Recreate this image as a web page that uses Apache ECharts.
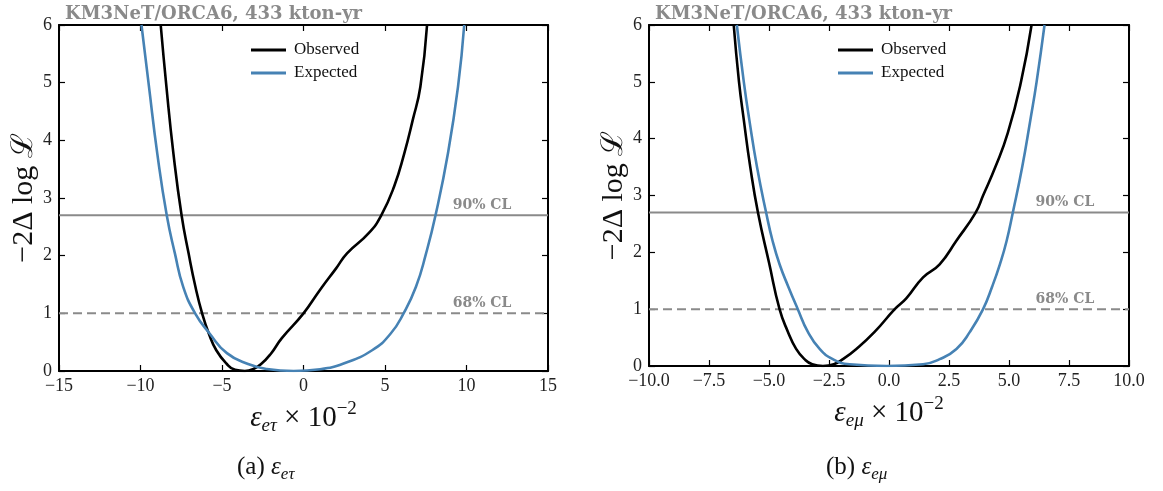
<!DOCTYPE html>
<html>
<head>
<meta charset="utf-8">
<script src="https://cdn.jsdelivr.net/npm/echarts@6/dist/echarts.min.js"></script>
<style>
html,body{margin:0;padding:0;background:#fff;}
#chart{width:1163px;height:491px;}
</style>
</head>
<body>
<div id="chart"></div>
<script>
// ---------- data ----------
const titleText = 'KM3NeT/ORCA6, 433 kton-yr';
const seriesNames = ['Observed', 'Expected'];
const clLevels = [2.7, 1.0];
const clLabels = ['90% CL', '68% CL'];

// Left panel: epsilon_e-tau (x 10^-2)
const tauObsX = [-8.76, -8.41, -7.98, -7.48, -7.05, -6.63, -6.22, -5.81, -5.35, -4.73, -4.2, -3.6, -3.1, -2.6, -2.0, -1.33, 0.0, 1.02, 2.0, 2.67, 4.0, 4.77, 5.56, 6.18, 6.7, 7.17, 7.58];
const tauObsY = [6.0, 4.93, 3.77, 2.7, 2.04, 1.46, 1.0, 0.65, 0.36, 0.13, 0.02, 0.0, 0.03, 0.12, 0.3, 0.57, 1.0, 1.41, 1.78, 2.04, 2.39, 2.7, 3.2, 3.77, 4.35, 4.93, 6.0];
const tauExpX = [-9.94, -9.48, -8.97, -8.39, -7.89, -7.38, -6.65, -5.76, -4.7, -3.4, -2.25, -0.6, 1.02, 2.46, 4.21, 5.35, 6.14, 6.9, 7.52, 8.1, 8.86, 9.48, 9.86];
const tauExpY = [6.0, 4.93, 3.77, 2.7, 2.04, 1.46, 1.0, 0.65, 0.31, 0.12, 0.035, 0.0, 0.03, 0.13, 0.36, 0.65, 1.0, 1.46, 2.04, 2.7, 3.77, 4.93, 6.0];

// Right panel: epsilon_e-mu (x 10^-2)
const muObsX = [-6.47, -6.25, -6.05, -5.78, -5.46, -5.0, -4.56, -4.21, -3.87, -3.52, -3.2, -2.75, -2.3, -1.92, -1.36, -0.6, 0.24, 0.72, 1.42, 2.11, 2.8, 3.61, 3.92, 4.43, 4.95, 5.5, 5.94];
const muObsY = [6.0, 5.0, 4.33, 3.5, 2.7, 1.82, 1.0, 0.6, 0.3, 0.12, 0.03, 0.0, 0.03, 0.12, 0.3, 0.6, 1.0, 1.19, 1.56, 1.79, 2.2, 2.7, 3.0, 3.5, 4.1, 5.0, 6.0];
const muExpX = [-6.34, -6.05, -5.82, -5.5, -5.12, -4.85, -4.56, -4.2, -3.8, -3.38, -2.89, -2.34, -1.64, -0.1, 1.42, 2.11, 2.81, 3.37, 3.92, 4.3, 4.62, 4.9, 5.16, 5.55, 5.89, 6.15, 6.48];
const muExpY = [6.0, 5.0, 4.33, 3.5, 2.7, 2.2, 1.79, 1.4, 1.0, 0.6, 0.3, 0.12, 0.03, 0.0, 0.03, 0.12, 0.3, 0.6, 1.0, 1.4, 1.79, 2.2, 2.7, 3.5, 4.33, 5.0, 6.0];

// axes
const tauXRange = [-15, 15, 5];
const muXRange = [-10, 10, 2.5];
const yRange = [0, 6, 1];

// ---------- styling ----------
const SERIF = "'Liberation Serif', 'DejaVu Serif', serif";
const BOLDSERIF = "'DejaVu Serif', 'Liberation Serif', serif";
const GRAY = '#8a8a8a';
const BLUE = '#4682b4';
const zip = (xs, ys) => xs.map((x, i) => [x, ys[i]]);
const minus = s => String(s).replace('-', '\u2212');

function xAxisPair(gridIndex, range, decimals, nameRich) {
  const common = {
    type: 'value', gridIndex, min: range[0], max: range[1], interval: range[2],
    splitLine: {show: false},
    axisLine: {show: true, onZero: false, lineStyle: {color: '#000', width: 2}},
    axisTick: {show: true, inside: true, length: 6, lineStyle: {color: '#000', width: 1.2}}
  };
  return [
    Object.assign({}, common, {
      position: 'bottom',
      axisLabel: {show: true, margin: 6, fontFamily: SERIF, fontSize: 18, color: '#222',
        formatter: v => minus(decimals ? v.toFixed(decimals) : v)},
      name: nameRich, nameLocation: 'middle', nameGap: 21,
      nameTextStyle: {
        color: '#111',
        rich: {
          i: {fontFamily: SERIF, fontStyle: 'italic', fontSize: 29, lineHeight: 36, color: '#111'},
          s: {fontFamily: SERIF, fontStyle: 'italic', fontSize: 19, lineHeight: 16, verticalAlign: 'bottom', color: '#111'},
          r: {fontFamily: SERIF, fontSize: 29, lineHeight: 36, color: '#111'},
          p: {fontFamily: SERIF, fontSize: 19, lineHeight: 16, verticalAlign: 'top', color: '#111'}
        }
      }
    }),
    Object.assign({}, common, {position: 'top', axisLabel: {show: false}})
  ];
}

function yAxisPair(gridIndex, nameGap) {
  const common = {
    type: 'value', gridIndex, min: yRange[0], max: yRange[1], interval: yRange[2],
    splitLine: {show: false},
    axisLine: {show: true, onZero: false, lineStyle: {color: '#000', width: 2}},
    axisTick: {show: true, inside: true, length: 6, lineStyle: {color: '#000', width: 1.2}}
  };
  return [
    Object.assign({}, common, {
      position: 'left',
      axisLabel: {show: true, margin: 7, fontFamily: SERIF, fontSize: 18, color: '#222'},
      name: '\u22122\u0394 log \u2112', nameLocation: 'middle', nameGap: nameGap,
      nameTextStyle: {fontFamily: SERIF, fontSize: 30, color: '#111'}
    }),
    Object.assign({}, common, {position: 'right', axisLabel: {show: false}})
  ];
}

function curve(name, xi, yi, data, color) {
  return {
    name, type: 'line', xAxisIndex: xi, yAxisIndex: yi, data,
    showSymbol: false, symbol: 'none', smooth: 0.5, clip: true,
    lineStyle: {color, width: 2.6}, itemStyle: {color}, z: 3
  };
}

function clSeries(xi, yi, range, level, label, dashed, labelX) {
  return {
    name: label, type: 'line', xAxisIndex: xi, yAxisIndex: yi,
    data: [[range[0], level], [range[1], level]],
    showSymbol: false, symbol: 'none', silent: true, z: 2,
    lineStyle: {color: GRAY, width: 2, type: dashed ? [9, 5] : 'solid'},
    markPoint: {
      symbol: 'circle', symbolSize: 0, silent: true,
      data: [{coord: [labelX, level]}],
      label: {show: true, position: 'top', distance: 3, formatter: label,
        fontFamily: BOLDSERIF, fontWeight: 'bold', fontSize: 14, color: GRAY}
    }
  };
}

const tauAxesX = xAxisPair(0, tauXRange, 0, '{i|\u03b5}{s|e\u03c4}{r| \u00d7 10}{p|\u22122}');
const muAxesX = xAxisPair(1, muXRange, 1, '{i|\u03b5}{s|e\u03bc}{r| \u00d7 10}{p|\u22122}');
const tauAxesY = yAxisPair(0, 14);
const muAxesY = yAxisPair(1, 14);

const captionRich = {
  r: {fontFamily: SERIF, fontWeight: 'normal', fontSize: 25, lineHeight: 32, color: '#111'},
  i: {fontFamily: SERIF, fontWeight: 'normal', fontStyle: 'italic', fontSize: 25, lineHeight: 32, color: '#111'},
  s: {fontFamily: SERIF, fontWeight: 'normal', fontStyle: 'italic', fontSize: 17, lineHeight: 16, verticalAlign: 'bottom', color: '#111'}
};

function legendAt(left) {
  return {
    data: seriesNames, orient: 'vertical', left, top: 36, icon: 'rect',
    itemWidth: 35, itemHeight: 3, itemGap: 5, selectedMode: false,
    textStyle: {fontFamily: SERIF, fontSize: 17, lineHeight: 18, color: '#111', padding: [0, 0, 0, 3]}
  };
}

const option = {
  animation: false,
  backgroundColor: '#fff',
  title: [
    {text: titleText, left: 60, top: 0, textStyle: {fontFamily: BOLDSERIF, fontWeight: 'bold', fontSize: 18, color: GRAY}},
    {text: titleText, left: 650, top: 0, textStyle: {fontFamily: BOLDSERIF, fontWeight: 'bold', fontSize: 18, color: GRAY}},
    {text: '{r|(a) }{i|\u03b5}{s|e\u03c4}', left: 232, top: 446, textStyle: {fontWeight: 'normal', rich: captionRich}},
    {text: '{r|(b) }{i|\u03b5}{s|e\u03bc}', left: 821, top: 446, textStyle: {fontWeight: 'normal', rich: captionRich}}
  ],
  legend: [legendAt(246), legendAt(833)],
  grid: [
    {left: 59, top: 25, width: 489, height: 346},
    {left: 649, top: 25, width: 480, height: 341}
  ],
  xAxis: [tauAxesX[0], tauAxesX[1], muAxesX[0], muAxesX[1]],
  yAxis: [tauAxesY[0], tauAxesY[1], muAxesY[0], muAxesY[1]],
  series: [
    clSeries(0, 0, tauXRange, clLevels[0], clLabels[0], false, 10.95),
    clSeries(0, 0, tauXRange, clLevels[1], clLabels[1], true, 10.95),
    curve(seriesNames[0], 0, 0, zip(tauObsX, tauObsY), '#000'),
    curve(seriesNames[1], 0, 0, zip(tauExpX, tauExpY), BLUE),
    clSeries(2, 2, muXRange, clLevels[0], clLabels[0], false, 7.33),
    clSeries(2, 2, muXRange, clLevels[1], clLabels[1], true, 7.33),
    curve(seriesNames[0], 2, 2, zip(muObsX, muObsY), '#000'),
    curve(seriesNames[1], 2, 2, zip(muExpX, muExpY), BLUE)
  ]
};

const chart = echarts.init(document.getElementById('chart'), null, {renderer: 'canvas'});
chart.setOption(option);
</script>
</body>
</html>
